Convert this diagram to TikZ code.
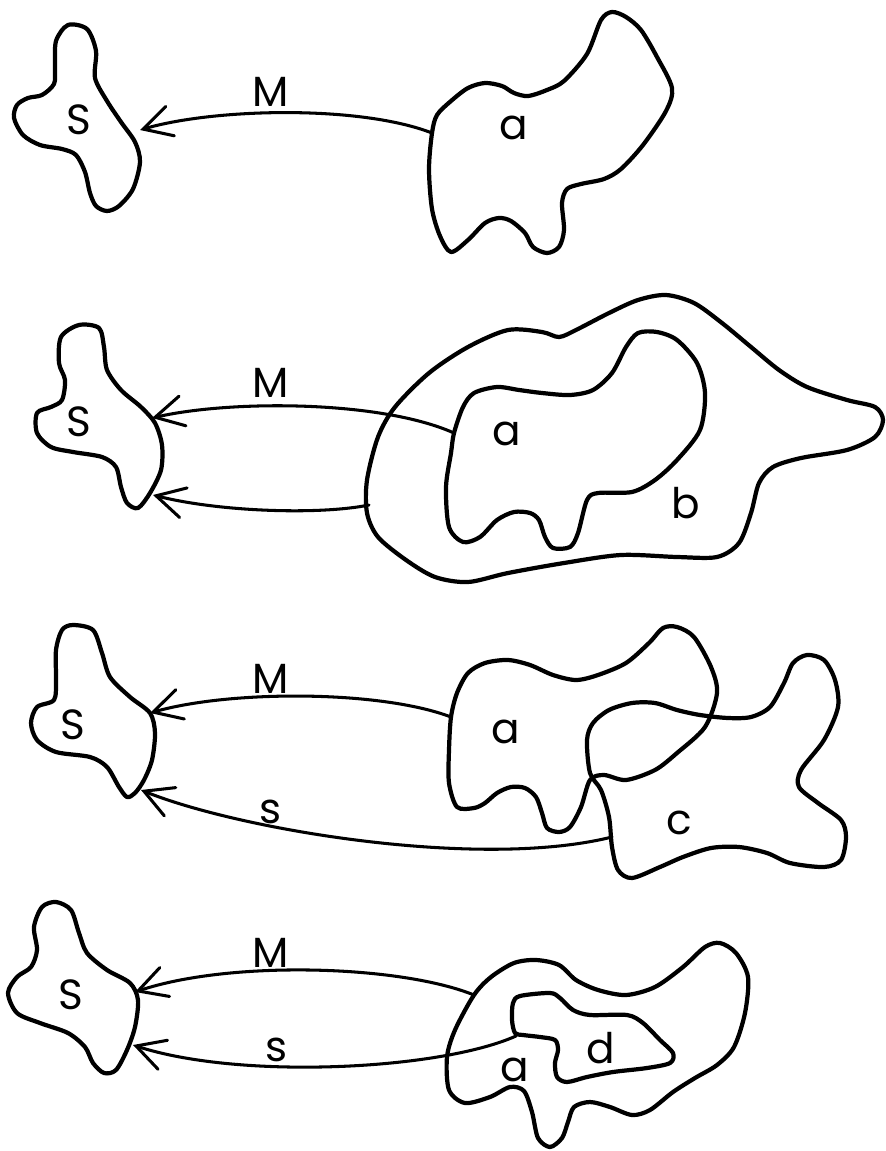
\documentclass[tikz,border=0pt]{standalone}
\usepackage{fontspec}
\setmainfont{Poppins}
\usetikzlibrary{arrows.meta}

\begin{document}
\begin{tikzpicture}[x=0.03cm,y=-0.03cm,
    blob/.style={line width=3.6pt,line join=round},
    link/.style={line width=2.6pt,line cap=round,
      -{Straight Barb[length=24pt,width=26pt,line cap=round]}},
    lab/.style={font=\fontsize{36}{40}\selectfont,inner sep=0pt}]
  \useasboundingbox (0,0) rectangle (885,1151);

  \draw[blob] plot[smooth cycle] coordinates {
    (68,25) (87,29) (96,51) (95,78) (107,101) (121,122) (135,142) (140,162)
    (133,189) (119,206) (107,211) (96,206) (90,193) (85,172) (76,155)
    (62,149) (40,145) (23,135) (14,118) (17,105) (28,98) (42,95) (54,84)
    (55,68) (56,41)};
  \draw[blob] plot[smooth cycle] coordinates {
    (432,133) (437,115) (451,101) (468,88) (485,83) (502,86) (514,93)
    (528,96) (547,90) (564,81) (587,54) (601,20) (612,12) (626,17) (641,30)
    (657,57) (672,88) (666,111) (643,145) (621,169) (604,179) (581,184)
    (567,189) (562,203) (564,230) (559,247) (547,253) (533,247) (525,233)
    (511,221) (499,218) (485,223) (468,240) (451,252) (440,236) (432,209)
    (429,169)};

  \draw[blob] plot[smooth cycle] coordinates {
    (79,325) (99,328) (104,347) (107,370) (121,390) (141,407) (155,423)
    (162,445) (161,470) (150,493) (138,508) (127,503) (121,487) (116,467)
    (102,457) (73,452) (51,447) (37,433) (37,413) (51,407) (62,400)
    (65,380) (59,363) (61,337)};
  \draw[blob] plot[smooth cycle] coordinates {
    (367,480) (378,437) (395,407) (429,373) (468,347) (508,330) (542,332)
    (559,337) (576,330) (609,313) (638,300) (666,295) (694,303) (722,323)
    (751,347) (779,370) (807,387) (847,400) (875,407) (883,420) (875,437)
    (847,450) (801,458) (773,467) (759,483) (751,513) (739,543) (717,557)
    (677,557) (621,555) (564,563) (508,573) (468,582) (435,577) (406,560)
    (378,537) (367,513)};
  \draw[blob] plot[smooth cycle] coordinates {
    (454,433) (463,407) (474,393) (497,387) (519,390) (542,393) (570,395)
    (593,390) (612,373) (626,347) (638,333) (657,332) (677,340) (697,363)
    (705,393) (700,430) (677,460) (655,480) (632,492) (598,493) (587,500)
    (578,533) (570,547) (553,548) (545,537) (539,520) (530,513) (514,512)
    (497,520) (480,537) (463,542) (449,527) (446,487) (451,453)};

  \draw[blob] plot[smooth cycle] coordinates {
    (73,625) (93,630) (102,653) (110,677) (130,697) (150,713) (155,733)
    (152,760) (144,780) (135,793) (127,797) (119,787) (107,767) (90,757)
    (56,752) (37,740) (31,723) (37,707) (54,700) (56,680) (56,650) (62,630)};
  \draw[blob] plot[smooth cycle] coordinates {
    (451,717) (457,693) (468,673) (485,663) (508,660) (530,665) (553,675)
    (576,680) (598,675) (626,663) (649,643) (663,628) (677,627) (694,637)
    (711,667) (717,693) (705,727) (677,753) (655,770) (626,780) (604,775)
    (590,780) (581,807) (570,827) (559,832) (547,828) (542,813) (536,797)
    (525,788) (511,787) (497,793) (485,803) (474,808) (457,807) (449,783)
    (449,750)};
  \draw[blob] plot[smooth cycle] coordinates {
    (587,740) (593,723) (609,710) (632,703) (655,703) (677,710) (700,715)
    (728,718) (751,717) (770,707) (784,683) (793,663) (807,655) (824,660)
    (835,680) (838,707) (824,740) (801,770) (799,787) (818,803) (841,820)
    (846,837) (841,860) (824,867) (790,863) (767,853) (739,847) (711,848)
    (683,857) (660,867) (632,878) (618,870) (612,847) (609,817) (601,790)
    (590,773)};

  \draw[blob] plot[smooth cycle] coordinates {
    (56,902) (71,910) (79,933) (87,953) (107,970) (130,983) (138,1000)
    (135,1027) (127,1050) (116,1070) (104,1073) (93,1063) (85,1047)
    (68,1033) (40,1023) (17,1013) (8,993) (17,977) (31,967) (37,950)
    (34,927) (42,907)};
  \draw[blob] plot[smooth cycle] coordinates {
    (474,995) (491,977) (514,963) (536,960) (559,965) (576,980) (598,990)
    (626,995) (655,987) (683,967) (705,947) (720,943) (736,953) (748,977)
    (745,1013) (734,1047) (717,1065) (695,1078) (673,1092) (650,1110)
    (632,1115) (610,1107) (590,1102) (574,1107) (568,1122) (562,1138)
    (550,1147) (538,1138) (532,1112) (524,1091) (510,1087) (490,1097)
    (465,1103) (449,1090) (447,1057) (455,1030)};
  \draw[blob] plot[smooth cycle] coordinates {
    (513,1003) (520,996) (550,993) (560,998) (573,1010) (590,1015)
    (627,1015) (643,1023) (660,1040) (673,1053) (670,1063) (647,1068)
    (613,1072) (587,1077) (567,1082) (557,1077) (555,1063) (558,1050)
    (555,1040) (540,1037) (523,1035) (515,1033) (512,1020)};

  \coordinate (a1M) at (432,133);  \coordinate (S1M) at (140,130);
  \coordinate (a2M) at (454,433);  \coordinate (S2M) at (152,418);
  \coordinate (b2)  at (369,505);  \coordinate (S2b) at (153,495);
  \coordinate (a3M) at (451,717);  \coordinate (S3M) at (150,713);
  \coordinate (c3s) at (612,837);  \coordinate (S3s) at (141,790);
  \coordinate (a4M) at (474,995);  \coordinate (S4M) at (135,992);
  \coordinate (d4s) at (516,1036); \coordinate (S4s) at (133,1045);

  \draw[link] (a1M) .. controls (360,105) and (215,108) .. (S1M);
  \draw[link] (a2M) .. controls (380,400) and (230,400) .. (S2M);
  \draw[link] (b2)  .. controls (320,515) and (220,512) .. (S2b);
  \draw[link] (a3M) .. controls (380,690) and (230,690) .. (S3M);
  \draw[link] (c3s) .. controls (480,870) and (240,830) .. (S3s);
  \draw[link] (a4M) .. controls (400,965) and (230,960) .. (S4M);
  \draw[link] (d4s) .. controls (440,1070) and (240,1080) .. (S4s);

  \foreach \x/\y/\t/\n in {
    79/120/S/S1,514/128/a/a1,271/92/M/M1,
    79/422/S/S2,507/434/a/a2,686/503/b/b2l,271/383/M/M2,
    73/725/S/S3,506/732/a/a3,679/823/c/c3,271/679/M/M3,271/812/s/s3,
    71/995/S/S4,515/1070/a/a4,601/1048/d/d4,271/953/M/M4,277/1050/s/s4}
    \node[lab] (\n) at (\x,\y) {\t};
\end{tikzpicture}
\end{document}
